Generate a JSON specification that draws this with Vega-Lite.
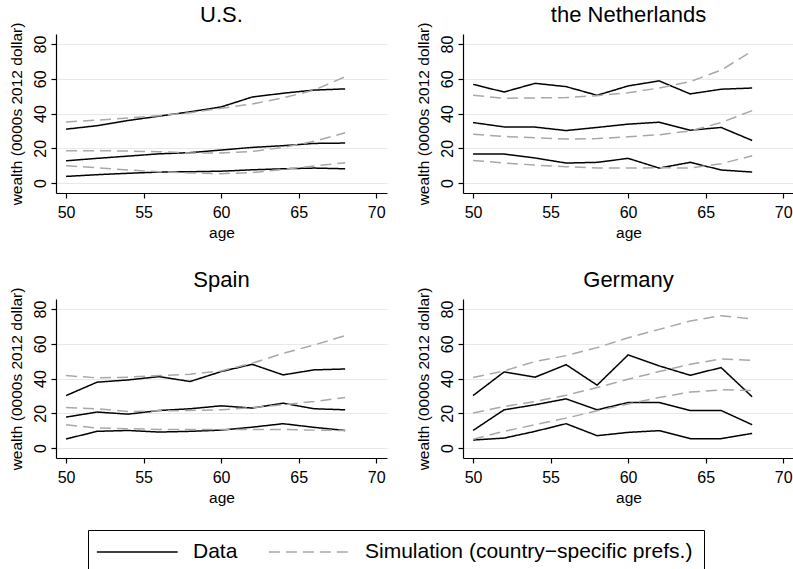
{
  "$schema": "https://vega.github.io/schema/vega-lite/v6.json",
  "autosize": {"type": "pad"},
  "padding": {"left": 9, "top": 4, "right": 0, "bottom": 0},
  "background": "#ffffff",
  "datasets": {
    "w": [
      {"c":"U.S.","t":"Data","q":"hi","a":50,"w":31},{"c":"U.S.","t":"Data","q":"hi","a":52,"w":33},{"c":"U.S.","t":"Data","q":"hi","a":54,"w":36},{"c":"U.S.","t":"Data","q":"hi","a":56,"w":38.5},{"c":"U.S.","t":"Data","q":"hi","a":58,"w":41},{"c":"U.S.","t":"Data","q":"hi","a":60,"w":43.8},{"c":"U.S.","t":"Data","q":"hi","a":62,"w":49.5},{"c":"U.S.","t":"Data","q":"hi","a":64,"w":51.7},{"c":"U.S.","t":"Data","q":"hi","a":66,"w":53.5},{"c":"U.S.","t":"Data","q":"hi","a":68,"w":54.2},
      {"c":"U.S.","t":"Data","q":"md","a":50,"w":12.8},{"c":"U.S.","t":"Data","q":"md","a":52,"w":14.2},{"c":"U.S.","t":"Data","q":"md","a":54,"w":15.5},{"c":"U.S.","t":"Data","q":"md","a":56,"w":16.8},{"c":"U.S.","t":"Data","q":"md","a":58,"w":17.5},{"c":"U.S.","t":"Data","q":"md","a":60,"w":19},{"c":"U.S.","t":"Data","q":"md","a":62,"w":20.5},{"c":"U.S.","t":"Data","q":"md","a":64,"w":21.5},{"c":"U.S.","t":"Data","q":"md","a":66,"w":22.8},{"c":"U.S.","t":"Data","q":"md","a":68,"w":23},
      {"c":"U.S.","t":"Data","q":"lo","a":50,"w":3.8},{"c":"U.S.","t":"Data","q":"lo","a":52,"w":4.8},{"c":"U.S.","t":"Data","q":"lo","a":54,"w":5.6},{"c":"U.S.","t":"Data","q":"lo","a":56,"w":6.3},{"c":"U.S.","t":"Data","q":"lo","a":58,"w":6.5},{"c":"U.S.","t":"Data","q":"lo","a":60,"w":6.8},{"c":"U.S.","t":"Data","q":"lo","a":62,"w":7.6},{"c":"U.S.","t":"Data","q":"lo","a":64,"w":8.2},{"c":"U.S.","t":"Data","q":"lo","a":66,"w":8.6},{"c":"U.S.","t":"Data","q":"lo","a":68,"w":8.2},
      {"c":"U.S.","t":"Simulation (country−specific prefs.)","q":"hi","a":50,"w":35.2},{"c":"U.S.","t":"Simulation (country−specific prefs.)","q":"hi","a":52,"w":36.2},{"c":"U.S.","t":"Simulation (country−specific prefs.)","q":"hi","a":54,"w":37.5},{"c":"U.S.","t":"Simulation (country−specific prefs.)","q":"hi","a":56,"w":38.8},{"c":"U.S.","t":"Simulation (country−specific prefs.)","q":"hi","a":58,"w":40.5},{"c":"U.S.","t":"Simulation (country−specific prefs.)","q":"hi","a":60,"w":43},{"c":"U.S.","t":"Simulation (country−specific prefs.)","q":"hi","a":62,"w":45.5},{"c":"U.S.","t":"Simulation (country−specific prefs.)","q":"hi","a":64,"w":49},{"c":"U.S.","t":"Simulation (country−specific prefs.)","q":"hi","a":66,"w":53.5},{"c":"U.S.","t":"Simulation (country−specific prefs.)","q":"hi","a":68,"w":61.2},
      {"c":"U.S.","t":"Simulation (country−specific prefs.)","q":"md","a":50,"w":18.6},{"c":"U.S.","t":"Simulation (country−specific prefs.)","q":"md","a":52,"w":18.6},{"c":"U.S.","t":"Simulation (country−specific prefs.)","q":"md","a":54,"w":18.4},{"c":"U.S.","t":"Simulation (country−specific prefs.)","q":"md","a":56,"w":18},{"c":"U.S.","t":"Simulation (country−specific prefs.)","q":"md","a":58,"w":17.3},{"c":"U.S.","t":"Simulation (country−specific prefs.)","q":"md","a":60,"w":17.3},{"c":"U.S.","t":"Simulation (country−specific prefs.)","q":"md","a":62,"w":18.2},{"c":"U.S.","t":"Simulation (country−specific prefs.)","q":"md","a":64,"w":20.5},{"c":"U.S.","t":"Simulation (country−specific prefs.)","q":"md","a":66,"w":24},{"c":"U.S.","t":"Simulation (country−specific prefs.)","q":"md","a":68,"w":28.9},
      {"c":"U.S.","t":"Simulation (country−specific prefs.)","q":"lo","a":50,"w":10},{"c":"U.S.","t":"Simulation (country−specific prefs.)","q":"lo","a":52,"w":8.8},{"c":"U.S.","t":"Simulation (country−specific prefs.)","q":"lo","a":54,"w":7.5},{"c":"U.S.","t":"Simulation (country−specific prefs.)","q":"lo","a":56,"w":6.5},{"c":"U.S.","t":"Simulation (country−specific prefs.)","q":"lo","a":58,"w":5.8},{"c":"U.S.","t":"Simulation (country−specific prefs.)","q":"lo","a":60,"w":5.4},{"c":"U.S.","t":"Simulation (country−specific prefs.)","q":"lo","a":62,"w":6},{"c":"U.S.","t":"Simulation (country−specific prefs.)","q":"lo","a":64,"w":7.8},{"c":"U.S.","t":"Simulation (country−specific prefs.)","q":"lo","a":66,"w":9.8},{"c":"U.S.","t":"Simulation (country−specific prefs.)","q":"lo","a":68,"w":11.7},

      {"c":"the Netherlands","t":"Data","q":"hi","a":50,"w":56.8},{"c":"the Netherlands","t":"Data","q":"hi","a":52,"w":52.4},{"c":"the Netherlands","t":"Data","q":"hi","a":54,"w":57.4},{"c":"the Netherlands","t":"Data","q":"hi","a":56,"w":55.5},{"c":"the Netherlands","t":"Data","q":"hi","a":58,"w":50.5},{"c":"the Netherlands","t":"Data","q":"hi","a":60,"w":55.9},{"c":"the Netherlands","t":"Data","q":"hi","a":62,"w":58.8},{"c":"the Netherlands","t":"Data","q":"hi","a":64,"w":51.3},{"c":"the Netherlands","t":"Data","q":"hi","a":66,"w":54},{"c":"the Netherlands","t":"Data","q":"hi","a":68,"w":54.7},
      {"c":"the Netherlands","t":"Data","q":"md","a":50,"w":34.8},{"c":"the Netherlands","t":"Data","q":"md","a":52,"w":32.3},{"c":"the Netherlands","t":"Data","q":"md","a":54,"w":32.2},{"c":"the Netherlands","t":"Data","q":"md","a":56,"w":30.2},{"c":"the Netherlands","t":"Data","q":"md","a":58,"w":32},{"c":"the Netherlands","t":"Data","q":"md","a":60,"w":33.9},{"c":"the Netherlands","t":"Data","q":"md","a":62,"w":35},{"c":"the Netherlands","t":"Data","q":"md","a":64,"w":30.4},{"c":"the Netherlands","t":"Data","q":"md","a":66,"w":32},{"c":"the Netherlands","t":"Data","q":"md","a":68,"w":24.5},
      {"c":"the Netherlands","t":"Data","q":"lo","a":50,"w":16.7},{"c":"the Netherlands","t":"Data","q":"lo","a":52,"w":16.7},{"c":"the Netherlands","t":"Data","q":"lo","a":54,"w":14.4},{"c":"the Netherlands","t":"Data","q":"lo","a":56,"w":11.5},{"c":"the Netherlands","t":"Data","q":"lo","a":58,"w":11.9},{"c":"the Netherlands","t":"Data","q":"lo","a":60,"w":14.2},{"c":"the Netherlands","t":"Data","q":"lo","a":62,"w":8.6},{"c":"the Netherlands","t":"Data","q":"lo","a":64,"w":11.9},{"c":"the Netherlands","t":"Data","q":"lo","a":66,"w":7.5},{"c":"the Netherlands","t":"Data","q":"lo","a":68,"w":6.3},
      {"c":"the Netherlands","t":"Simulation (country−specific prefs.)","q":"hi","a":50,"w":50.5},{"c":"the Netherlands","t":"Simulation (country−specific prefs.)","q":"hi","a":52,"w":48.8},{"c":"the Netherlands","t":"Simulation (country−specific prefs.)","q":"hi","a":54,"w":49},{"c":"the Netherlands","t":"Simulation (country−specific prefs.)","q":"hi","a":56,"w":49.2},{"c":"the Netherlands","t":"Simulation (country−specific prefs.)","q":"hi","a":58,"w":50.3},{"c":"the Netherlands","t":"Simulation (country−specific prefs.)","q":"hi","a":60,"w":52},{"c":"the Netherlands","t":"Simulation (country−specific prefs.)","q":"hi","a":62,"w":54.7},{"c":"the Netherlands","t":"Simulation (country−specific prefs.)","q":"hi","a":64,"w":58.4},{"c":"the Netherlands","t":"Simulation (country−specific prefs.)","q":"hi","a":66,"w":65},{"c":"the Netherlands","t":"Simulation (country−specific prefs.)","q":"hi","a":68,"w":76},
      {"c":"the Netherlands","t":"Simulation (country−specific prefs.)","q":"md","a":50,"w":28.1},{"c":"the Netherlands","t":"Simulation (country−specific prefs.)","q":"md","a":52,"w":26.8},{"c":"the Netherlands","t":"Simulation (country−specific prefs.)","q":"md","a":54,"w":26},{"c":"the Netherlands","t":"Simulation (country−specific prefs.)","q":"md","a":56,"w":25.3},{"c":"the Netherlands","t":"Simulation (country−specific prefs.)","q":"md","a":58,"w":25.6},{"c":"the Netherlands","t":"Simulation (country−specific prefs.)","q":"md","a":60,"w":26.6},{"c":"the Netherlands","t":"Simulation (country−specific prefs.)","q":"md","a":62,"w":27.8},{"c":"the Netherlands","t":"Simulation (country−specific prefs.)","q":"md","a":64,"w":30},{"c":"the Netherlands","t":"Simulation (country−specific prefs.)","q":"md","a":66,"w":34.8},{"c":"the Netherlands","t":"Simulation (country−specific prefs.)","q":"md","a":68,"w":41.7},
      {"c":"the Netherlands","t":"Simulation (country−specific prefs.)","q":"lo","a":50,"w":13},{"c":"the Netherlands","t":"Simulation (country−specific prefs.)","q":"lo","a":52,"w":11.5},{"c":"the Netherlands","t":"Simulation (country−specific prefs.)","q":"lo","a":54,"w":10.3},{"c":"the Netherlands","t":"Simulation (country−specific prefs.)","q":"lo","a":56,"w":9.4},{"c":"the Netherlands","t":"Simulation (country−specific prefs.)","q":"lo","a":58,"w":8.6},{"c":"the Netherlands","t":"Simulation (country−specific prefs.)","q":"lo","a":60,"w":8.6},{"c":"the Netherlands","t":"Simulation (country−specific prefs.)","q":"lo","a":62,"w":8.8},{"c":"the Netherlands","t":"Simulation (country−specific prefs.)","q":"lo","a":64,"w":8.6},{"c":"the Netherlands","t":"Simulation (country−specific prefs.)","q":"lo","a":66,"w":11.1},{"c":"the Netherlands","t":"Simulation (country−specific prefs.)","q":"lo","a":68,"w":15.7},

      {"c":"Spain","t":"Data","q":"hi","a":50,"w":30.2},{"c":"Spain","t":"Data","q":"hi","a":52,"w":37.9},{"c":"Spain","t":"Data","q":"hi","a":54,"w":39.2},{"c":"Spain","t":"Data","q":"hi","a":56,"w":41.1},{"c":"Spain","t":"Data","q":"hi","a":58,"w":38.3},{"c":"Spain","t":"Data","q":"hi","a":60,"w":44},{"c":"Spain","t":"Data","q":"hi","a":62,"w":48.2},{"c":"Spain","t":"Data","q":"hi","a":64,"w":42.1},{"c":"Spain","t":"Data","q":"hi","a":66,"w":45},{"c":"Spain","t":"Data","q":"hi","a":68,"w":45.5},
      {"c":"Spain","t":"Data","q":"md","a":50,"w":17.8},{"c":"Spain","t":"Data","q":"md","a":52,"w":20.7},{"c":"Spain","t":"Data","q":"md","a":54,"w":19.5},{"c":"Spain","t":"Data","q":"md","a":56,"w":21.6},{"c":"Spain","t":"Data","q":"md","a":58,"w":22.6},{"c":"Spain","t":"Data","q":"md","a":60,"w":24.3},{"c":"Spain","t":"Data","q":"md","a":62,"w":23},{"c":"Spain","t":"Data","q":"md","a":64,"w":25.8},{"c":"Spain","t":"Data","q":"md","a":66,"w":22.6},{"c":"Spain","t":"Data","q":"md","a":68,"w":22},
      {"c":"Spain","t":"Data","q":"lo","a":50,"w":5.2},{"c":"Spain","t":"Data","q":"lo","a":52,"w":9.6},{"c":"Spain","t":"Data","q":"lo","a":54,"w":10.1},{"c":"Spain","t":"Data","q":"lo","a":56,"w":9.2},{"c":"Spain","t":"Data","q":"lo","a":58,"w":9.6},{"c":"Spain","t":"Data","q":"lo","a":60,"w":10.3},{"c":"Spain","t":"Data","q":"lo","a":62,"w":12},{"c":"Spain","t":"Data","q":"lo","a":64,"w":14},{"c":"Spain","t":"Data","q":"lo","a":66,"w":11.9},{"c":"Spain","t":"Data","q":"lo","a":68,"w":10.1},
      {"c":"Spain","t":"Simulation (country−specific prefs.)","q":"hi","a":50,"w":41.7},{"c":"Spain","t":"Simulation (country−specific prefs.)","q":"hi","a":52,"w":40.4},{"c":"Spain","t":"Simulation (country−specific prefs.)","q":"hi","a":54,"w":40.8},{"c":"Spain","t":"Simulation (country−specific prefs.)","q":"hi","a":56,"w":41.7},{"c":"Spain","t":"Simulation (country−specific prefs.)","q":"hi","a":58,"w":42.5},{"c":"Spain","t":"Simulation (country−specific prefs.)","q":"hi","a":60,"w":44.4},{"c":"Spain","t":"Simulation (country−specific prefs.)","q":"hi","a":62,"w":48.8},{"c":"Spain","t":"Simulation (country−specific prefs.)","q":"hi","a":64,"w":54.5},{"c":"Spain","t":"Simulation (country−specific prefs.)","q":"hi","a":66,"w":59.3},{"c":"Spain","t":"Simulation (country−specific prefs.)","q":"hi","a":68,"w":64.7},
      {"c":"Spain","t":"Simulation (country−specific prefs.)","q":"md","a":50,"w":23.3},{"c":"Spain","t":"Simulation (country−specific prefs.)","q":"md","a":52,"w":22.6},{"c":"Spain","t":"Simulation (country−specific prefs.)","q":"md","a":54,"w":21},{"c":"Spain","t":"Simulation (country−specific prefs.)","q":"md","a":56,"w":21.4},{"c":"Spain","t":"Simulation (country−specific prefs.)","q":"md","a":58,"w":21.6},{"c":"Spain","t":"Simulation (country−specific prefs.)","q":"md","a":60,"w":22},{"c":"Spain","t":"Simulation (country−specific prefs.)","q":"md","a":62,"w":23.3},{"c":"Spain","t":"Simulation (country−specific prefs.)","q":"md","a":64,"w":24.9},{"c":"Spain","t":"Simulation (country−specific prefs.)","q":"md","a":66,"w":26.8},{"c":"Spain","t":"Simulation (country−specific prefs.)","q":"md","a":68,"w":29.1},
      {"c":"Spain","t":"Simulation (country−specific prefs.)","q":"lo","a":50,"w":13.4},{"c":"Spain","t":"Simulation (country−specific prefs.)","q":"lo","a":52,"w":11.5},{"c":"Spain","t":"Simulation (country−specific prefs.)","q":"lo","a":54,"w":11.1},{"c":"Spain","t":"Simulation (country−specific prefs.)","q":"lo","a":56,"w":10.7},{"c":"Spain","t":"Simulation (country−specific prefs.)","q":"lo","a":58,"w":10.7},{"c":"Spain","t":"Simulation (country−specific prefs.)","q":"lo","a":60,"w":10.7},{"c":"Spain","t":"Simulation (country−specific prefs.)","q":"lo","a":62,"w":10.7},{"c":"Spain","t":"Simulation (country−specific prefs.)","q":"lo","a":64,"w":10.7},{"c":"Spain","t":"Simulation (country−specific prefs.)","q":"lo","a":66,"w":10.3},{"c":"Spain","t":"Simulation (country−specific prefs.)","q":"lo","a":68,"w":10.1},

      {"c":"Germany","t":"Data","q":"hi","a":50,"w":30.2},{"c":"Germany","t":"Data","q":"hi","a":52,"w":43.8},{"c":"Germany","t":"Data","q":"hi","a":54,"w":40.8},{"c":"Germany","t":"Data","q":"hi","a":56,"w":48},{"c":"Germany","t":"Data","q":"hi","a":58,"w":36.2},{"c":"Germany","t":"Data","q":"hi","a":60,"w":53.6},{"c":"Germany","t":"Data","q":"hi","a":62,"w":47.3},{"c":"Germany","t":"Data","q":"hi","a":64,"w":41.9},{"c":"Germany","t":"Data","q":"hi","a":66,"w":46.3},{"c":"Germany","t":"Data","q":"hi","a":68,"w":29.5},
      {"c":"Germany","t":"Data","q":"md","a":50,"w":10.1},{"c":"Germany","t":"Data","q":"md","a":52,"w":22},{"c":"Germany","t":"Data","q":"md","a":54,"w":24.9},{"c":"Germany","t":"Data","q":"md","a":56,"w":28.3},{"c":"Germany","t":"Data","q":"md","a":58,"w":22},{"c":"Germany","t":"Data","q":"md","a":60,"w":26.2},{"c":"Germany","t":"Data","q":"md","a":62,"w":26.2},{"c":"Germany","t":"Data","q":"md","a":64,"w":21.6},{"c":"Germany","t":"Data","q":"md","a":66,"w":21.6},{"c":"Germany","t":"Data","q":"md","a":68,"w":13.4},
      {"c":"Germany","t":"Data","q":"lo","a":50,"w":4.6},{"c":"Germany","t":"Data","q":"lo","a":52,"w":5.7},{"c":"Germany","t":"Data","q":"lo","a":54,"w":9.6},{"c":"Germany","t":"Data","q":"lo","a":56,"w":14},{"c":"Germany","t":"Data","q":"lo","a":58,"w":7.1},{"c":"Germany","t":"Data","q":"lo","a":60,"w":9},{"c":"Germany","t":"Data","q":"lo","a":62,"w":10},{"c":"Germany","t":"Data","q":"lo","a":64,"w":5.4},{"c":"Germany","t":"Data","q":"lo","a":66,"w":5.4},{"c":"Germany","t":"Data","q":"lo","a":68,"w":8.4},
      {"c":"Germany","t":"Simulation (country−specific prefs.)","q":"hi","a":50,"w":40.6},{"c":"Germany","t":"Simulation (country−specific prefs.)","q":"hi","a":52,"w":44.4},{"c":"Germany","t":"Simulation (country−specific prefs.)","q":"hi","a":54,"w":49.8},{"c":"Germany","t":"Simulation (country−specific prefs.)","q":"hi","a":56,"w":53.2},{"c":"Germany","t":"Simulation (country−specific prefs.)","q":"hi","a":58,"w":57.8},{"c":"Germany","t":"Simulation (country−specific prefs.)","q":"hi","a":60,"w":63.5},{"c":"Germany","t":"Simulation (country−specific prefs.)","q":"hi","a":62,"w":68.3},{"c":"Germany","t":"Simulation (country−specific prefs.)","q":"hi","a":64,"w":73.1},{"c":"Germany","t":"Simulation (country−specific prefs.)","q":"hi","a":66,"w":76.2},{"c":"Germany","t":"Simulation (country−specific prefs.)","q":"hi","a":68,"w":74.3},
      {"c":"Germany","t":"Simulation (country−specific prefs.)","q":"md","a":50,"w":20.1},{"c":"Germany","t":"Simulation (country−specific prefs.)","q":"md","a":52,"w":23.9},{"c":"Germany","t":"Simulation (country−specific prefs.)","q":"md","a":54,"w":26.8},{"c":"Germany","t":"Simulation (country−specific prefs.)","q":"md","a":56,"w":30.4},{"c":"Germany","t":"Simulation (country−specific prefs.)","q":"md","a":58,"w":34.8},{"c":"Germany","t":"Simulation (country−specific prefs.)","q":"md","a":60,"w":39.6},{"c":"Germany","t":"Simulation (country−specific prefs.)","q":"md","a":62,"w":44},{"c":"Germany","t":"Simulation (country−specific prefs.)","q":"md","a":64,"w":48.2},{"c":"Germany","t":"Simulation (country−specific prefs.)","q":"md","a":66,"w":51.3},{"c":"Germany","t":"Simulation (country−specific prefs.)","q":"md","a":68,"w":50.5},
      {"c":"Germany","t":"Simulation (country−specific prefs.)","q":"lo","a":50,"w":5},{"c":"Germany","t":"Simulation (country−specific prefs.)","q":"lo","a":52,"w":9.6},{"c":"Germany","t":"Simulation (country−specific prefs.)","q":"lo","a":54,"w":13.4},{"c":"Germany","t":"Simulation (country−specific prefs.)","q":"lo","a":56,"w":17.2},{"c":"Germany","t":"Simulation (country−specific prefs.)","q":"lo","a":58,"w":21.4},{"c":"Germany","t":"Simulation (country−specific prefs.)","q":"lo","a":60,"w":25.3},{"c":"Germany","t":"Simulation (country−specific prefs.)","q":"lo","a":62,"w":29.1},{"c":"Germany","t":"Simulation (country−specific prefs.)","q":"lo","a":64,"w":32.2},{"c":"Germany","t":"Simulation (country−specific prefs.)","q":"lo","a":66,"w":33.5},{"c":"Germany","t":"Simulation (country−specific prefs.)","q":"lo","a":68,"w":33.1}
    ]
  },
  "data": {"name": "w"},
  "spacing": 28,
  "vconcat": [
    {
      "spacing": 29,
      "hconcat": [
        {
          "title": "U.S.",
          "width": 331, "height": 159,
          "transform": [{"filter": "datum.c === 'U.S.'"}],
          "mark": {"type": "line", "strokeWidth": 1.5},
          "encoding": {
            "x": {"field": "a", "type": "quantitative", "scale": {"domain": [49.35, 70.7], "nice": false, "zero": false}, "axis": {"values": [50, 55, 60, 65, 70], "title": "age", "grid": false, "labelPadding": 6, "titlePadding": 5}},
            "y": {"field": "w", "type": "quantitative", "scale": {"domain": [-5.75, 85.8], "nice": false, "zero": false}, "axis": {"values": [0, 20, 40, 60, 80], "title": "wealth (0000s 2012 dollar)", "grid": true, "labelAngle": 270, "labelAlign": "center", "labelBaseline": "alphabetic", "labelPadding": 6, "titlePadding": 8}},
            "color": {"field": "t", "type": "nominal", "scale": {"domain": ["Data", "Simulation (country−specific prefs.)"], "range": ["#000000", "#a8a8a8"]}, "legend": {"title": null}},
            "strokeDash": {"field": "t", "type": "nominal", "scale": {"domain": ["Data", "Simulation (country−specific prefs.)"], "range": [[1, 0], [11, 6]]}, "legend": {"title": null}},
            "detail": {"field": "q"}
          }
        },
        {
          "title": "the Netherlands",
          "width": 331, "height": 159,
          "transform": [{"filter": "datum.c === 'the Netherlands'"}],
          "mark": {"type": "line", "strokeWidth": 1.5},
          "encoding": {
            "x": {"field": "a", "type": "quantitative", "scale": {"domain": [49.35, 70.7], "nice": false, "zero": false}, "axis": {"values": [50, 55, 60, 65, 70], "title": "age", "grid": false, "labelPadding": 6, "titlePadding": 5}},
            "y": {"field": "w", "type": "quantitative", "scale": {"domain": [-5.75, 85.8], "nice": false, "zero": false}, "axis": {"values": [0, 20, 40, 60, 80], "title": "wealth (0000s 2012 dollar)", "grid": true, "labelAngle": 270, "labelAlign": "center", "labelBaseline": "alphabetic", "labelPadding": 6, "titlePadding": 8}},
            "color": {"field": "t", "type": "nominal", "scale": {"domain": ["Data", "Simulation (country−specific prefs.)"], "range": ["#000000", "#a8a8a8"]}, "legend": {"title": null}},
            "strokeDash": {"field": "t", "type": "nominal", "scale": {"domain": ["Data", "Simulation (country−specific prefs.)"], "range": [[1, 0], [11, 6]]}, "legend": {"title": null}},
            "detail": {"field": "q"}
          }
        }
      ]
    },
    {
      "spacing": 29,
      "hconcat": [
        {
          "title": "Spain",
          "width": 331, "height": 159,
          "transform": [{"filter": "datum.c === 'Spain'"}],
          "mark": {"type": "line", "strokeWidth": 1.5},
          "encoding": {
            "x": {"field": "a", "type": "quantitative", "scale": {"domain": [49.35, 70.7], "nice": false, "zero": false}, "axis": {"values": [50, 55, 60, 65, 70], "title": "age", "grid": false, "labelPadding": 6, "titlePadding": 5}},
            "y": {"field": "w", "type": "quantitative", "scale": {"domain": [-5.75, 85.8], "nice": false, "zero": false}, "axis": {"values": [0, 20, 40, 60, 80], "title": "wealth (0000s 2012 dollar)", "grid": true, "labelAngle": 270, "labelAlign": "center", "labelBaseline": "alphabetic", "labelPadding": 6, "titlePadding": 8}},
            "color": {"field": "t", "type": "nominal", "scale": {"domain": ["Data", "Simulation (country−specific prefs.)"], "range": ["#000000", "#a8a8a8"]}, "legend": {"title": null}},
            "strokeDash": {"field": "t", "type": "nominal", "scale": {"domain": ["Data", "Simulation (country−specific prefs.)"], "range": [[1, 0], [11, 6]]}, "legend": {"title": null}},
            "detail": {"field": "q"}
          }
        },
        {
          "title": "Germany",
          "width": 331, "height": 159,
          "transform": [{"filter": "datum.c === 'Germany'"}],
          "mark": {"type": "line", "strokeWidth": 1.5},
          "encoding": {
            "x": {"field": "a", "type": "quantitative", "scale": {"domain": [49.35, 70.7], "nice": false, "zero": false}, "axis": {"values": [50, 55, 60, 65, 70], "title": "age", "grid": false, "labelPadding": 6, "titlePadding": 5}},
            "y": {"field": "w", "type": "quantitative", "scale": {"domain": [-5.75, 85.8], "nice": false, "zero": false}, "axis": {"values": [0, 20, 40, 60, 80], "title": "wealth (0000s 2012 dollar)", "grid": true, "labelAngle": 270, "labelAlign": "center", "labelBaseline": "alphabetic", "labelPadding": 6, "titlePadding": 8}},
            "color": {"field": "t", "type": "nominal", "scale": {"domain": ["Data", "Simulation (country−specific prefs.)"], "range": ["#000000", "#a8a8a8"]}, "legend": {"title": null}},
            "strokeDash": {"field": "t", "type": "nominal", "scale": {"domain": ["Data", "Simulation (country−specific prefs.)"], "range": [[1, 0], [11, 6]]}, "legend": {"title": null}},
            "detail": {"field": "q"}
          }
        }
      ]
    }
  ],
  "config": {
    "font": "Liberation Sans",
    "view": {"stroke": null},
    "axis": {
      "domainColor": "#000000", "domainWidth": 1.2,
      "tickColor": "#000000", "tickWidth": 1.2, "tickSize": 5,
      "labelColor": "#000000", "labelFontSize": 16, "labelFont": "Liberation Sans",
      "titleColor": "#000000", "titleFontSize": 15.5, "titleFontWeight": "normal", "titleFont": "Liberation Sans",
      "gridColor": "#e8e8e8", "gridWidth": 1
    },
    "title": {"fontSize": 22, "fontWeight": "normal", "color": "#000000", "font": "Liberation Sans", "anchor": "middle", "frame": "group", "offset": -5},
    "legend": {
      "orient": "none", "legendX": 32, "legendY": 496,
      "direction": "horizontal",
      "strokeColor": "#000000", "padding": 11,
      "symbolType": "M-1.3,0L6.7,0", "symbolSize": 408, "symbolStrokeWidth": 1.5,
      "labelFontSize": 21, "labelFont": "Liberation Sans", "labelColor": "#000000",
      "labelOffset": 72, "columnPadding": 27, "labelLimit": 500
    }
  }
}
